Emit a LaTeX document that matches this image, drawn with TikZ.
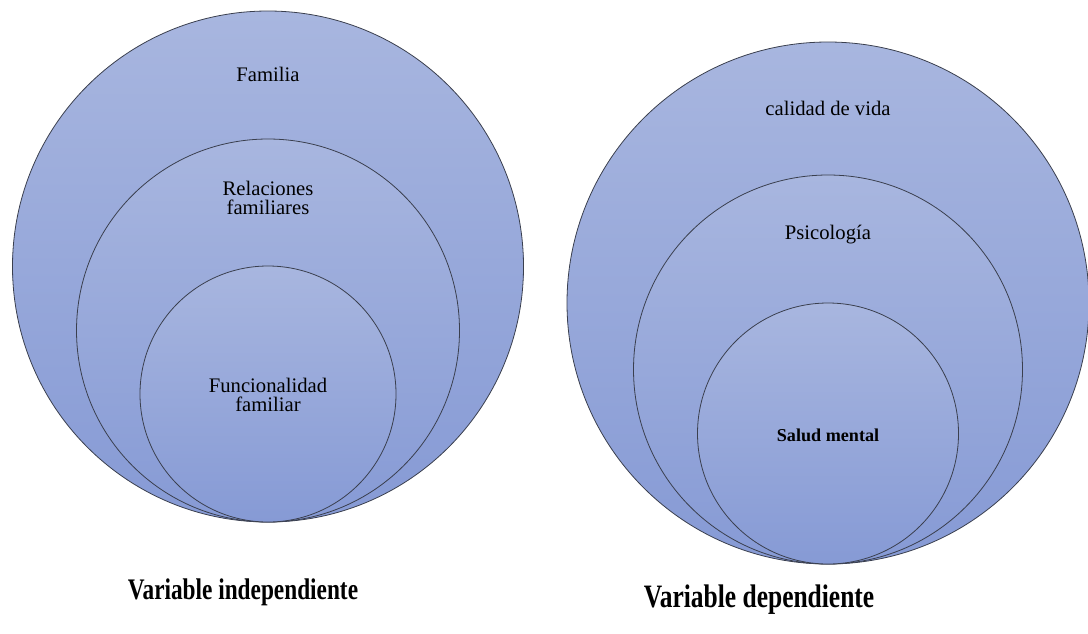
\documentclass[tikz,border=0pt]{standalone}
\usepackage{fontspec}
\setmainfont{Liberation Serif}
\newfontfamily\tnr{Liberation Serif}
\definecolor{ctop}{HTML}{A8B6DF}
\definecolor{cbot}{HTML}{869AD5}
\definecolor{ringline}{HTML}{3A3F4E}
\begin{document}
\begin{tikzpicture}[x=0.75pt,y=-0.75pt,
  ring/.style={circle, draw=ringline, line width=0.6pt, top color=ctop, bottom color=cbot, inner sep=0pt, outer sep=0pt, minimum size=#1},
  lbl/.style={font=\tnr\fontsize{15.5}{16}\selectfont, align=center, inner sep=0pt, text=black},
  blbl/.style={font=\tnr\fontsize{13.6}{15}\selectfont\bfseries, inner sep=0pt, text=black},
  varlbl/.style={font=\tnr\fontsize{#1}{26}\selectfont\bfseries, inner sep=0pt, text=black, xscale=0.78}]
\useasboundingbox (0,0) rectangle (1088,633);
% left group
\node[ring=383.25pt] (lbig) at (268,266.5) {};
\node[ring=287.25pt] (lmid) at (268,330.5) {};
\node[ring=192pt] (lin) at (268,394) {};
\node[lbl] (tfam) at (268,74) {Familia};
\node[lbl] (trel) at (268,198) {Relaciones\\[-2pt]familiares};
\node[lbl] (tfun) at (268,395) {Funcionalidad\\[-2pt]familiar};
% right group
\node[ring=391.5pt] (rbig) at (828,303) {};
\node[ring=291.75pt] (rmid) at (828,369.5) {};
\node[ring=195.75pt] (rin) at (828,433.5) {};
\node[lbl] (tcal) at (828,108) {calidad de vida};
\node[lbl] (tpsi) at (828,235) {Psicología};
\node[blbl] (tsal) at (828,435) {Salud mental};
% labels
\node[varlbl=22.4] (vind) at (243,592) {Variable independiente};
\node[varlbl=24.5] (vdep) at (759,600) {Variable dependiente};
\end{tikzpicture}
\end{document}
